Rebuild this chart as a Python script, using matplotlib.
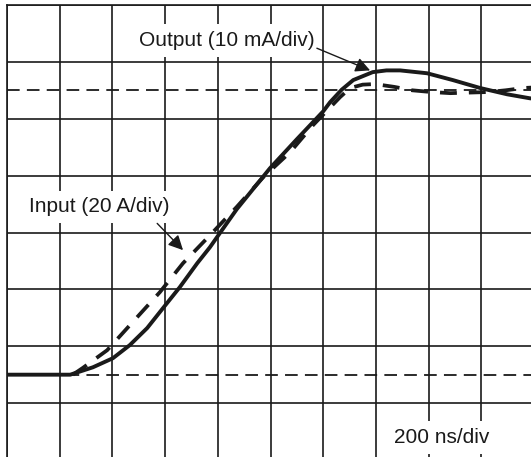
import numpy as np
import matplotlib
matplotlib.use("Agg")
import matplotlib.pyplot as plt

plt.rcParams['font.family'] = ['Liberation Sans', 'DejaVu Sans']

# scope screen: 10 x 8 divisions, traces in divisions
out_x = [0.0, 1.20, 1.63, 2.01, 2.33, 2.66, 2.96, 3.28, 3.61, 3.85, 4.04, 4.36,
         4.99, 5.50, 6.00, 6.13, 6.35, 6.57, 6.94, 7.20, 7.46, 7.97, 8.46, 8.98,
         9.49, 9.92, 10.2]
out_y = [1.50, 1.50, 1.63, 1.79, 2.02, 2.32, 2.67, 3.04, 3.46, 3.74, 3.99, 4.41,
         5.13, 5.64, 6.13, 6.29, 6.51, 6.68, 6.82, 6.85, 6.85, 6.80, 6.68, 6.54,
         6.43, 6.36, 6.33]

in_x = [1.25, 1.44, 1.90, 2.39, 2.90, 3.34, 3.85, 4.36, 4.86, 5.37, 5.81, 6.32,
        6.51, 6.75, 6.98, 7.35, 7.69, 8.05, 8.41, 8.77, 9.13, 9.46, 9.79, 10.2]
in_y = [1.50, 1.62, 1.93, 2.43, 2.95, 3.46, 3.95, 4.45, 4.97, 5.41, 5.89, 6.38,
        6.54, 6.60, 6.61, 6.56, 6.50, 6.47, 6.45, 6.46, 6.47, 6.50, 6.54, 6.56]

ref_levels = [1.5, 6.5]
ink = '#1a1a1a'

fig = plt.figure(figsize=(5.31, 4.57), dpi=100)
ax = fig.add_axes([7 / 531, -3 / 457, 527 / 531, 455 / 457])
ax.set_xlim(0, 10)
ax.set_ylim(0, 8)
ax.set_xticks(np.arange(0, 11))
ax.set_yticks(np.arange(0, 9))
ax.tick_params(length=0, labelbottom=False, labelleft=False)
ax.grid(True, color=ink, lw=1.2, zorder=1)
ax.set_axisbelow(True)
for s in ax.spines.values():
    s.set_color(ink)
    s.set_linewidth(1.2)

for lv in ref_levels:
    ax.axhline(lv, color=ink, lw=1.3, dashes=(7, 4), zorder=2)

# labels with white boxes that cut the graticule
box = dict(facecolor='white', edgecolor='none', pad=5)
ax.text(4.18, 7.38, 'Output (10 mA/div)', fontsize=15, ha='center', va='center',
        color=ink, bbox=box, zorder=3)
ax.text(1.75, 4.45, 'Input (20 A/div)', fontsize=15, ha='center', va='center',
        color=ink, bbox=box, zorder=3)
ax.text(8.24, 0.40, '200 ns/div', fontsize=15, ha='center', va='center',
        color=ink, bbox=box, zorder=3)

ax.plot(in_x, in_y, color=ink, lw=2.7, dashes=(4.5, 3.2), zorder=4)
ax.plot(out_x, out_y, color=ink, lw=2.8, zorder=5, solid_capstyle='round',
        solid_joinstyle='round')

arrow = dict(arrowstyle='-|>', color=ink, lw=1.0, mutation_scale=22,
             shrinkA=0, shrinkB=0)
ax.annotate('', xy=(6.89, 6.85), xytext=(5.88, 7.24), arrowprops=arrow, zorder=6)
ax.annotate('', xy=(3.34, 3.69), xytext=(2.85, 4.16), arrowprops=arrow, zorder=6)

fig.savefig('out.png', dpi=100)
